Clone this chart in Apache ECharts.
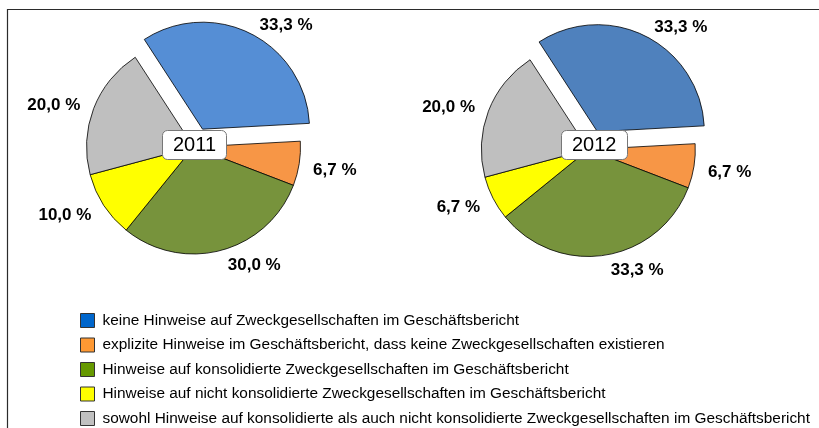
<!DOCTYPE html>
<html>
<head>
<meta charset="utf-8">
<script src="https://cdn.jsdelivr.net/npm/echarts@6/dist/echarts.min.js"></script>
<style>
  html, body { margin: 0; padding: 0; background: #fff; }
  #chart { width: 819px; height: 428px; }
</style>
</head>
<body>
<div id="chart"></div>
<script>
    // Kategorien (Legende)
    var categories = [
        'keine Hinweise auf Zweckgesellschaften im Geschäftsbericht',
        'explizite Hinweise im Geschäftsbericht, dass keine Zweckgesellschaften existieren',
        'Hinweise auf konsolidierte Zweckgesellschaften im Geschäftsbericht',
        'Hinweise auf nicht konsolidierte Zweckgesellschaften im Geschäftsbericht',
        'sowohl Hinweise auf konsolidierte als auch nicht konsolidierte Zweckgesellschaften im Geschäftsbericht'
    ]
    var years = ['2011', '2012']
    var values2011 = [33.3, 6.7, 30.0, 10.0, 20.0]
    var values2012 = [33.3, 6.7, 33.3, 6.7, 20.0]

    var colors2011 = ['#558ED5', '#F79646', '#77933C', '#FFFF00', '#BFBFBF']
    var colors2012 = ['#4F81BD', '#F79646', '#77933C', '#FFFF00', '#BFBFBF']
    var legendColors = ['#0066CC', '#FF9933', '#669900', '#FFFF00', '#C0C0C0']

    var font = "'Liberation Sans', Arial, sans-serif"
    var centers = [[193.5, 147], [588.3, 149.5]]

    function pieData(values, colors) {
        return values.map(function (v, i) {
            return {
                name: categories[i],
                value: v,
                selected: i === 0,
                itemStyle: {color: colors[i]}
            }
        })
    }

    function pieSeries(values, colors, center) {
        return {
            type: 'pie',
            center: center,
            radius: 107,
            startAngle: 123,
            clockwise: true,
            selectedMode: 'single',
            selectedOffset: 20,
            animation: false,
            emphasis: {disabled: true},
            itemStyle: {borderColor: '#000', borderWidth: 0.8},
            select: {itemStyle: {borderColor: '#000', borderWidth: 0.8}},
            label: {
                show: true,
                position: 'outside',
                distanceToLabelLine: 4,
                fontFamily: font,
                fontSize: 17,
                fontWeight: 'bold',
                color: '#000',
                formatter: function (p) {
                    return p.value.toFixed(1).replace('.', ',') + ' %'
                }
            },
            labelLine: {show: false, length: 10, length2: 0},
            // Beschriftungen unterhalb der Mitte etwas tiefer setzen
            labelLayout: function (p) {
                var c = centers[p.seriesIndex]
                var midY = p.labelRect.y + p.labelRect.height / 2
                return midY > c[1] ? {dy: 5} : {}
            },
            data: pieData(values, colors)
        }
    }

    function yearTitle(text, left) {
        return {
            text: text,
            left: left,
            top: 130,
            z: 10,
            padding: [3, 11],
            backgroundColor: '#fff',
            borderColor: '#777',
            borderWidth: 1,
            borderRadius: 5,
            textStyle: {fontFamily: font, fontSize: 20, fontWeight: 'normal', color: '#000', lineHeight: 24}
        }
    }

    var chart = echarts.init(document.getElementById('chart'))
    chart.setOption({
        backgroundColor: '#fff',
        title: [yearTitle(years[0], 162), yearTitle(years[1], 561)],
        legend: {
            orient: 'vertical',
            left: 80,
            top: 313,
            padding: 0,
            itemWidth: 14,
            itemHeight: 14,
            itemGap: 9.5,
            selectedMode: false,
            icon: 'rect',
            textStyle: {fontFamily: font, fontSize: 15.4, lineHeight: 14, color: '#000', padding: [0, 0, 0, 3]},
            data: categories.map(function (c, i) {
                return {name: c, itemStyle: {color: legendColors[i], borderColor: '#333', borderWidth: 1}}
            })
        },
        graphic: [{
            type: 'rect',
            silent: true,
            shape: {x: 7.5, y: 9.5, width: 900, height: 500},
            style: {fill: 'none', stroke: '#2b2b2b', lineWidth: 1.2}
        }],
        series: [
            pieSeries(values2011, colors2011, centers[0]),
            pieSeries(values2012, colors2012, centers[1])
        ]
    })
</script>
</body>
</html>
